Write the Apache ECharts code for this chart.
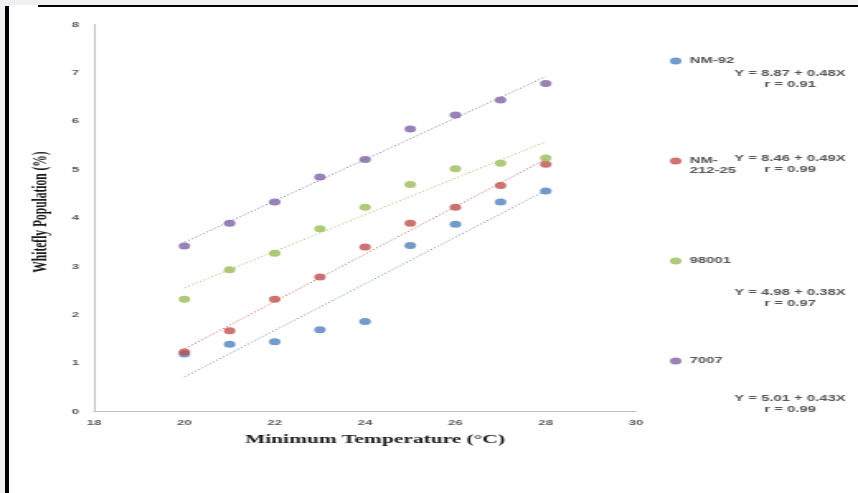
<!DOCTYPE html>
<html>
<head>
<meta charset="utf-8">
<script src="https://cdn.jsdelivr.net/npm/echarts@6/dist/echarts.min.js"></script>
<style>
  html, body { margin: 0; padding: 0; width: 858px; height: 493px; overflow: hidden; background: #eff0f2; }
  #sheet { position: absolute; left: 9px; top: 5px; width: 849px; height: 488px; background: #ffffff; }
  #edgeL { position: absolute; left: 5px; top: 6px; width: 4px; height: 487px; background: #000000; }
  #edgeT { position: absolute; left: 38px; top: 5px; width: 820px; height: 2px; background: #000000; }
  /* the figure is drawn on a narrower canvas and widened horizontally */
  #chart { position: absolute; left: 0; top: 0; width: 520px; height: 493px; transform-origin: 0 0; transform: scaleX(1.65); }
</style>
</head>
<body>
<div id="sheet"></div>
<div id="edgeL"></div>
<div id="edgeT"></div>
<div id="chart"></div>
<script>
// Minimum temperature (°C) for each observation
const temperatures = [20, 21, 22, 23, 24, 25, 26, 27, 28];

// Whitefly population (%) per variety
const nm92     = [1.19, 1.39, 1.44, 1.69, 1.86, 3.43, 3.87, 4.33, 4.56];
const nm21225  = [1.23, 1.67, 2.32, 2.78, 3.40, 3.89, 4.22, 4.67, 5.11];
const v98001   = [2.32, 2.93, 3.27, 3.78, 4.22, 4.69, 5.02, 5.13, 5.24];
const v7007    = [3.42, 3.89, 4.33, 4.85, 5.21, 5.84, 6.13, 6.44, 6.78];

const seriesNames  = ['NM-92', 'NM-212-25', '98001', '7007'];
// the long name wraps; a blank first line keeps "NM-" level with the marker
const legendLabels = ['NM-92', ' \nNM-\n212-25', '98001', '7007'];
const seriesValues = [nm92, nm21225, v98001, v7007];
const colors = ['#4F81BD', '#C0504D', '#9BBB59', '#8064A2'];

// Regression equations printed beside the legend
const equationTexts = [
  'Y = 8.87 + 0.48X\nr = 0.91',
  'Y = 8.46 + 0.49X\nr = 0.99',
  'Y = 4.98 + 0.38X\nr = 0.97',
  'Y = 5.01 + 0.43X\nr = 0.99'
];

const xTicks = { min: 18, max: 30, interval: 2 };
const yTicks = { min: 0, max: 8, interval: 1 };

// least-squares line through the points, spanning the observed temperatures
function trendLine(xs, ys) {
  const n = xs.length;
  const mx = xs.reduce((s, v) => s + v, 0) / n;
  const my = ys.reduce((s, v) => s + v, 0) / n;
  let sxy = 0, sxx = 0;
  for (let i = 0; i < n; i++) {
    sxy += (xs[i] - mx) * (ys[i] - my);
    sxx += (xs[i] - mx) * (xs[i] - mx);
  }
  const b = sxy / sxx, a = my - b * mx;
  const x0 = Math.min(...xs), x1 = Math.max(...xs);
  return [[x0, a + b * x0], [x1, a + b * x1]];
}

const chart = echarts.init(document.getElementById('chart'), null, { renderer: 'canvas' });

const scatterSeries = seriesNames.map((name, i) => ({
  name: name,
  type: 'scatter',
  symbol: 'circle',
  symbolSize: 7,
  itemStyle: { color: colors[i] },
  data: temperatures.map((t, j) => [t, seriesValues[i][j]]),
  z: 3
}));

const trendSeries = seriesNames.map((name, i) => ({
  name: name + ' trend',
  type: 'line',
  symbol: 'none',
  silent: true,
  lineStyle: { color: colors[i], width: 1, type: [1.2, 1.6], opacity: 0.85 },
  data: trendLine(temperatures, seriesValues[i]),
  z: 2
}));

// legend entries sit at fixed heights down the right side
const legendCenters = [61, 161, 261, 361];
const legends = seriesNames.map((name, i) => {
  const lines = legendLabels[i].split('\n').length;
  return {
    data: [name],
    orient: 'vertical',
    left: 406,
    top: legendCenters[i] - lines * 5,
    padding: 0,
    itemWidth: 7,
    itemHeight: 7,
    icon: 'circle',
    selectedMode: false,
    formatter: () => legendLabels[i],
    textStyle: {
      fontFamily: 'Liberation Sans',
      fontWeight: 'bold',
      fontSize: 9,
      color: '#555555',
      lineHeight: 10
    }
  };
});

const equationCenters = [79, 164, 298, 404];
const equationGraphics = equationTexts.map((txt, i) => ({
  type: 'text',
  x: 478.8,
  y: equationCenters[i],
  silent: true,
  style: {
    text: txt,
    align: 'center',
    verticalAlign: 'middle',
    fontFamily: 'Liberation Sans',
    fontWeight: 'bold',
    fontSize: 9,
    lineHeight: 10.5,
    fill: '#555555'
  }
}));

chart.setOption({
  animation: false,
  grid: { left: 57, right: 134.5, top: 24.5, bottom: 81.5, containLabel: false },
  legend: legends,
  xAxis: {
    type: 'value',
    min: xTicks.min, max: xTicks.max, interval: xTicks.interval,
    name: 'Minimum Temperature (°C)',
    nameLocation: 'middle',
    nameGap: 22,
    nameTextStyle: {
      fontFamily: 'Liberation Serif', fontWeight: 'bold', fontSize: 13,
      color: '#1a1a1a', padding: [0, 0, 0, 12]
    },
    axisLine: { show: true, lineStyle: { color: '#bfbfbf', width: 1 } },
    axisTick: { show: false },
    splitLine: { show: false },
    axisLabel: {
      margin: 7, fontFamily: 'Liberation Sans', fontWeight: 'bold',
      fontSize: 8, color: '#595959'
    }
  },
  yAxis: {
    type: 'value',
    min: yTicks.min, max: yTicks.max, interval: yTicks.interval,
    name: 'Whitefly Population (%)',
    nameLocation: 'middle',
    nameRotate: 90,
    nameGap: 26,
    nameTextStyle: {
      fontFamily: 'Liberation Serif', fontWeight: 'bold', fontSize: 11.5,
      color: '#1a1a1a', padding: [0, 0, 0, 12]
    },
    axisLine: { show: true, lineStyle: { color: '#bfbfbf', width: 1 } },
    axisTick: { show: false },
    splitLine: { show: false },
    axisLabel: {
      margin: 9, fontFamily: 'Liberation Sans', fontWeight: 'bold',
      fontSize: 8, color: '#595959'
    }
  },
  graphic: equationGraphics,
  series: trendSeries.concat(scatterSeries)
});
</script>
</body>
</html>
